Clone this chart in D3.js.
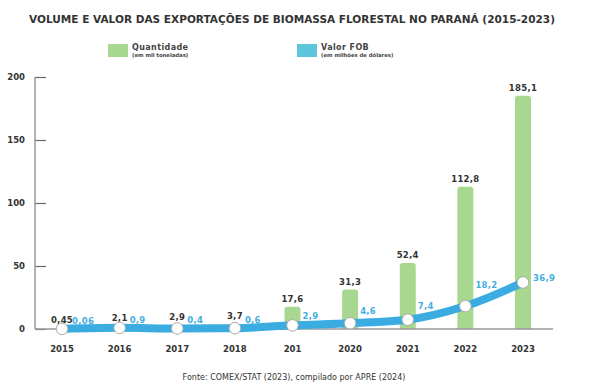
<!DOCTYPE html>
<html>
<head>
<meta charset="utf-8">
<script src="https://cdn.jsdelivr.net/npm/d3@7"></script>
<style>
  body { margin: 0; background: #fff; }
  text { font-family: "DejaVu Sans", sans-serif; }
</style>
</head>
<body>
<script>
// data
var years = ['2015', '2016', '2017', '2018', '201', '2020', '2021', '2022', '2023'];
var quantidade = [0.45, 2.1, 2.9, 3.7, 17.6, 31.3, 52.4, 112.8, 185.1];
var valorFob = [0.06, 0.9, 0.4, 0.6, 2.9, 4.6, 7.4, 18.2, 36.9];
var quantLabels = ['0,45', '2,1', '2,9', '3,7', '17,6', '31,3', '52,4', '112,8', '185,1'];
var fobLabels = ['0,06', '0,9', '0,4', '0,6', '2,9', '4,6', '7,4', '18,2', '36,9'];
var yTicks = [0, 50, 100, 150, 200];

var width = 595, height = 385;
var barColor = '#a8d88f';
var lineColor = '#3aace1';
var legendBlue = '#5ec6dc';
var axisColor = '#999';
var textDark = '#333';
// vertical nudge of the blue labels
var fobNudge = [-5, -5, -5, -5, -6, -9, -11, -18, -2];

var svg = d3.select('body').append('svg')
  .attr('width', width)
  .attr('height', height);

var x = d3.scalePoint()
  .domain(years)
  .range([62, 523]);

var y = d3.scaleLinear()
  .domain([0, 200])
  .range([329, 77]);

// title
svg.append('text')
  .attr('x', 292)
  .attr('y', 23)
  .attr('text-anchor', 'middle')
  .attr('textLength', 526)
  .attr('lengthAdjust', 'spacingAndGlyphs')
  .style('font-size', '11px')
  .style('font-weight', 'bold')
  .style('fill', textDark)
  .text('VOLUME E VALOR DAS EXPORTAÇÕES DE BIOMASSA FLORESTAL NO PARANÁ (2015-2023)');

// legend
var legend = [
  {name: 'Quantidade', sub: '(em mil toneladas)', color: barColor, x: 108},
  {name: 'Valor FOB', sub: '(em milhões de dólares)', color: legendBlue, x: 297}
];
var lg = svg.selectAll('.legend')
  .data(legend)
  .enter()
  .append('g')
    .attr('class', 'legend')
    .attr('transform', function(d) { return 'translate(' + d.x + ',44)'; });
lg.append('rect')
  .attr('width', 20)
  .attr('height', 13)
  .attr('fill', function(d) { return d.color; });
lg.append('text')
  .attr('x', 24)
  .attr('y', 6)
  .style('font-size', '8px')
  .style('font-weight', 'bold')
  .style('letter-spacing', '0.4px')
  .style('fill', '#444')
  .text(function(d) { return d.name; });
lg.append('text')
  .attr('x', 24)
  .attr('y', 12.5)
  .style('font-size', '5.3px')
  .style('font-weight', 'bold')
  .style('fill', '#444')
  .text(function(d) { return d.sub; });

// y axis
var yAxis = svg.append('g')
  .attr('transform', 'translate(35,0)')
  .call(d3.axisRight(y).tickValues(yTicks).tickSize(11).tickFormat(''));
yAxis.select('.domain').remove();
yAxis.selectAll('line').attr('stroke', '#666').attr('stroke-width', 1.2);
svg.append('line')
  .attr('x1', 35).attr('x2', 35)
  .attr('y1', y(200)).attr('y2', y(0))
  .attr('stroke', axisColor)
  .attr('stroke-width', 1.5);
svg.selectAll('.ytick')
  .data(yTicks)
  .enter()
  .append('text')
    .attr('class', 'ytick')
    .attr('x', 25)
    .attr('y', function(d) { return y(d) + 3; })
    .attr('text-anchor', 'end')
    .style('font-size', '8.5px')
    .style('font-weight', 'bold')
    .style('fill', textDark)
    .text(function(d) { return d; });

// bars
var barW = 16;
svg.selectAll('.bar')
  .data(quantidade)
  .enter()
  .append('path')
    .attr('class', 'bar')
    .attr('fill', barColor)
    .attr('d', function(d, i) {
      var x0 = x(years[i]) - barW / 2, x1 = x0 + barW;
      var top = y(d), bot = y(0);
      var r = Math.min(3, (bot - top) / 2);
      return 'M' + x0 + ',' + bot + 'V' + (top + r) +
        'Q' + x0 + ',' + top + ' ' + (x0 + r) + ',' + top +
        'H' + (x1 - r) + 'Q' + x1 + ',' + top + ' ' + x1 + ',' + (top + r) +
        'V' + bot + 'Z';
    });

// baseline
svg.append('line')
  .attr('x1', 35).attr('x2', 553)
  .attr('y1', y(0)).attr('y2', y(0))
  .attr('stroke', axisColor)
  .attr('stroke-width', 1.5);

// bar labels
svg.selectAll('.qlabel')
  .data(quantidade)
  .enter()
  .append('text')
    .attr('class', 'qlabel')
    .attr('x', function(d, i) { return x(years[i]); })
    .attr('y', function(d) { return Math.min(y(d), 329) - 5; })
    .attr('text-anchor', 'middle')
    .style('font-size', '8.5px')
    .style('font-weight', 'bold')
    .style('letter-spacing', '0.3px')
    .style('fill', textDark)
    .text(function(d, i) { return quantLabels[i]; });

// FOB line
var line = d3.line()
  .x(function(d, i) { return x(years[i]); })
  .y(function(d) { return y(d); })
  .curve(d3.curveMonotoneX);
svg.append('path')
  .datum(valorFob)
  .attr('d', line)
  .attr('fill', 'none')
  .attr('stroke', lineColor)
  .attr('stroke-width', 8)
  .attr('stroke-linecap', 'round');

svg.selectAll('.pt')
  .data(valorFob)
  .enter()
  .append('circle')
    .attr('class', 'pt')
    .attr('cx', function(d, i) { return x(years[i]); })
    .attr('cy', function(d) { return y(d); })
    .attr('r', 5.8)
    .attr('fill', '#fff')
    .attr('stroke', '#aaa')
    .attr('stroke-width', 1);

svg.selectAll('.flabel')
  .data(valorFob)
  .enter()
  .append('text')
    .attr('class', 'flabel')
    .attr('x', function(d, i) { return x(years[i]) + 10; })
    .attr('y', function(d, i) { return y(d) + fobNudge[i]; })
    .style('font-size', '8.5px')
    .style('font-weight', 'bold')
    .style('letter-spacing', '0.3px')
    .style('fill', '#45aee0')
    .text(function(d, i) { return fobLabels[i]; });

// x labels
svg.selectAll('.xlabel')
  .data(years)
  .enter()
  .append('text')
    .attr('class', 'xlabel')
    .attr('x', function(d) { return x(d); })
    .attr('y', 352)
    .attr('text-anchor', 'middle')
    .style('font-size', '8.5px')
    .style('font-weight', 'bold')
    .style('fill', textDark)
    .text(function(d) { return d; });

// source
svg.append('text')
  .attr('x', 294)
  .attr('y', 380)
  .attr('text-anchor', 'middle')
  .style('font-size', '8px')
  .style('fill', textDark)
  .text('Fonte: COMEX/STAT (2023), compilado por APRE (2024)');
</script>
</body>
</html>
